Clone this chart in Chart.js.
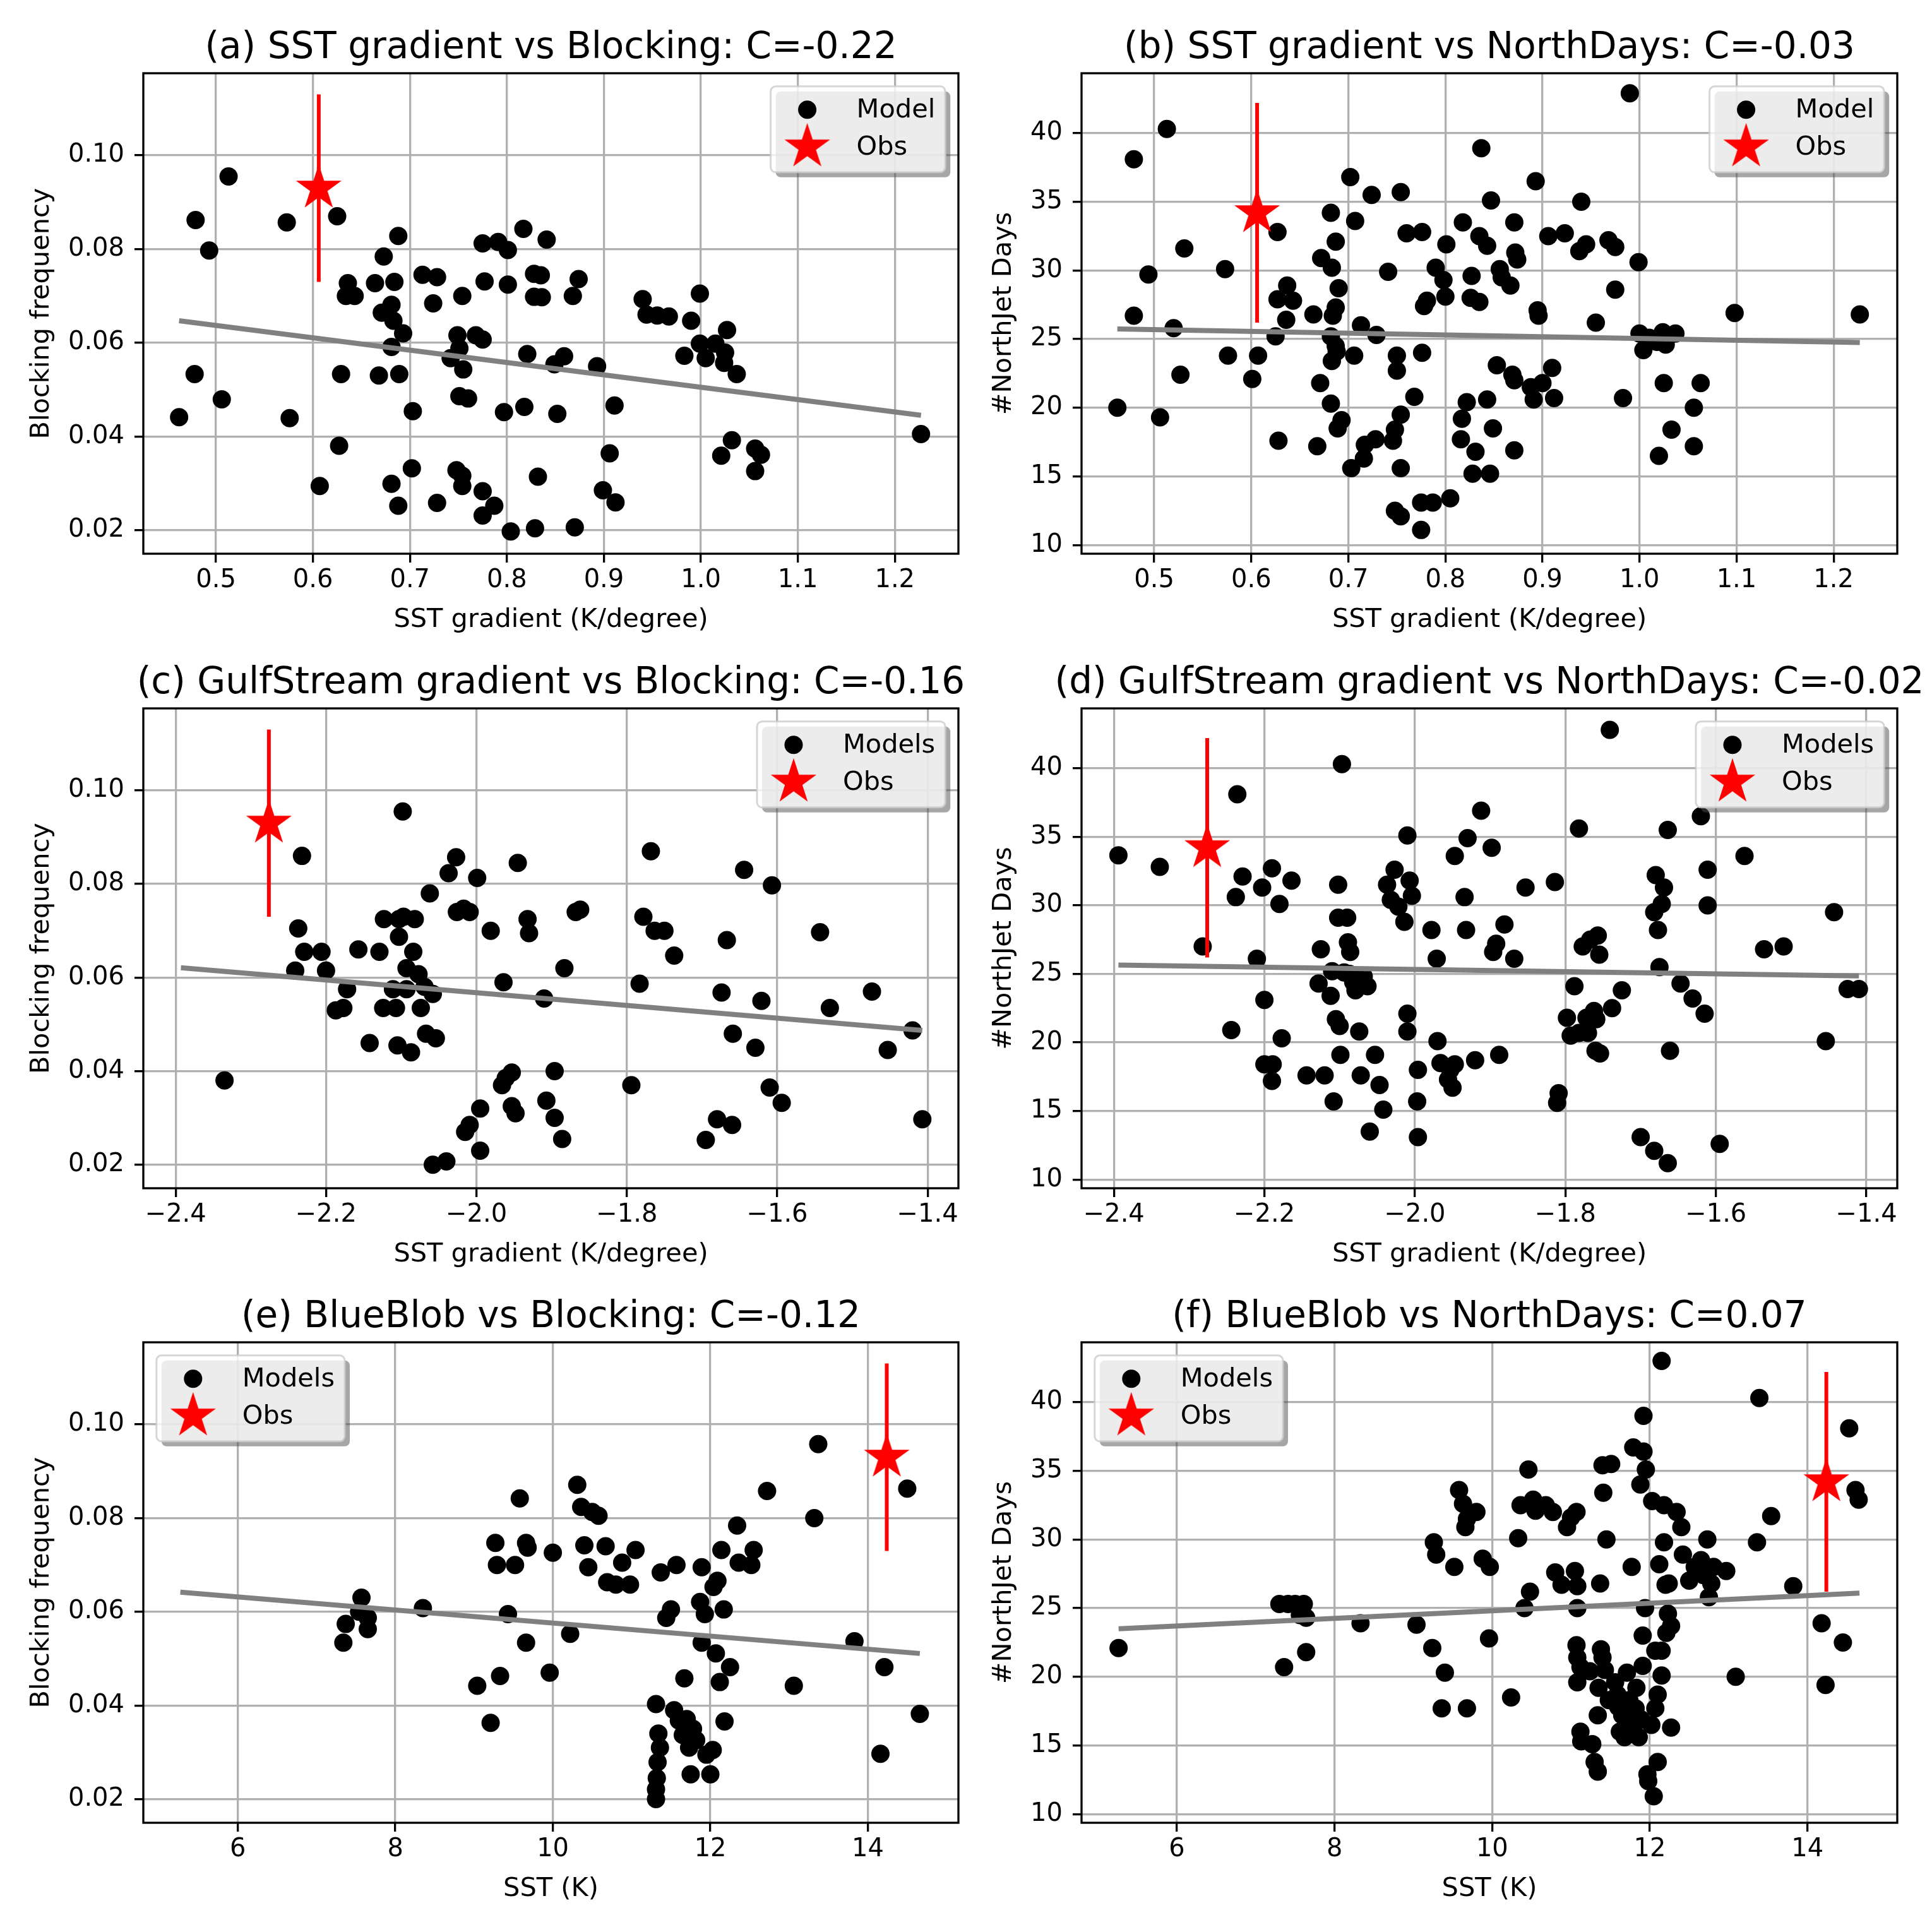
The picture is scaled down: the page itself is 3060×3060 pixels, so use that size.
<!DOCTYPE html>
<html>
<head>
<meta charset="utf-8">
<script src="https://cdn.jsdelivr.net/npm/chart.js@4.4.1/dist/chart.umd.min.js"></script>
<style>
html, body { margin: 0; padding: 0; background: #fff; }
#page { position: relative; width: 3060px; height: 3060px; overflow: hidden; background: #fff; }
#page canvas { position: absolute; }
</style>
</head>
<body>
<div id="page"></div>
<script>
// ---- data ----

// (a) SST gradient vs Blocking
const sstGradA = [0.462,0.479,0.493,0.478,0.513,0.506,0.573,0.576,0.607,0.625,0.629,0.627,0.636,0.634,0.643,0.664,0.673,0.668,0.688,0.684,0.681,0.671,0.683,0.693,0.681,0.689,0.681,0.688,0.703,0.702,0.713,0.728,0.724,0.728,0.749,0.751,0.742,0.755,0.754,0.748,0.754,0.754,0.751,0.760,0.768,0.775,0.775,0.791,0.801,0.777,0.801,0.775,0.775,0.787,0.797,0.804,0.817,0.818,0.821,0.828,0.835,0.828,0.836,0.829,0.832,0.841,0.849,0.859,0.852,0.874,0.868,0.870,0.893,0.906,0.911,0.899,0.912,0.940,0.944,0.955,0.967,0.990,0.999,0.983,0.999,1.005,1.015,1.027,1.025,1.024,1.037,1.032,1.021,1.056,1.062,1.056,1.227];
const blockA = [0.0441,0.0862,0.0797,0.0533,0.0955,0.0479,0.0857,0.0439,0.0294,0.0870,0.0533,0.0380,0.0727,0.0700,0.0700,0.0727,0.0784,0.0530,0.0828,0.0730,0.0681,0.0664,0.0647,0.0620,0.0591,0.0533,0.0299,0.0252,0.0454,0.0332,0.0745,0.0740,0.0684,0.0258,0.0616,0.0588,0.0567,0.0543,0.0700,0.0328,0.0316,0.0294,0.0486,0.0481,0.0616,0.0607,0.0812,0.0815,0.0798,0.0731,0.0724,0.0283,0.0231,0.0252,0.0452,0.0197,0.0843,0.0463,0.0576,0.0747,0.0744,0.0698,0.0697,0.0204,0.0314,0.0820,0.0554,0.0571,0.0448,0.0736,0.0700,0.0206,0.0550,0.0364,0.0466,0.0285,0.0259,0.0693,0.0660,0.0658,0.0656,0.0647,0.0705,0.0572,0.0598,0.0567,0.0598,0.0627,0.0579,0.0557,0.0533,0.0392,0.0359,0.0374,0.0361,0.0326,0.0405];

// (b) SST gradient vs NorthDays
const sstGradB = [0.462,0.479,0.479,0.494,0.506,0.513,0.520,0.527,0.531,0.573,
  0.576,0.601,0.607,0.627,0.625,0.628,0.637,0.627,0.643,0.636,
  0.664,0.668,0.682,0.687,0.672,0.683,0.690,0.687,0.684,0.682,
  0.687,0.688,0.683,0.671,0.682,0.693,0.689,0.702,0.707,0.706,
  0.703,0.713,0.717,0.716,0.724,0.729,0.728,0.741,0.750,0.750,
  0.754,0.760,0.776,0.768,0.754,0.748,0.746,0.748,0.754,0.754,
  0.775,0.775,0.787,0.776,0.778,0.781,0.790,0.801,0.798,0.800,
  0.805,0.818,0.817,0.822,0.816,0.831,0.828,0.846,0.837,0.835,
  0.843,0.827,0.826,0.835,0.847,0.849,0.843,0.853,0.869,0.871,
  0.871,0.856,0.858,0.867,0.871,0.872,0.874,0.893,0.895,0.896,
  0.888,0.891,0.900,0.910,0.912,0.906,0.923,0.940,0.938,0.945,
  0.955,0.968,0.975,0.975,0.990,0.983,0.999,1.000,1.004,1.010,
  1.018,1.027,1.024,1.037,1.020,1.025,1.033,1.056,1.063,1.056,
  1.098,1.227];
const daysB = [20.0,38.1,26.7,29.7,19.3,40.3,25.8,22.4,31.6,30.1,
  23.8,22.1,23.8,32.8,25.2,17.6,28.9,27.9,27.8,26.4,
  26.8,17.2,34.2,32.1,30.9,30.2,28.7,27.3,26.7,25.2,
  24.5,24.1,23.4,21.8,20.3,19.1,18.5,36.8,33.6,23.8,
  15.6,26.0,17.3,16.3,35.5,25.3,17.7,29.9,23.8,22.7,
  35.7,32.7,32.8,20.8,19.5,18.4,17.6,12.5,12.1,15.6,
  11.1,13.1,13.1,24.0,27.4,27.8,30.2,31.9,29.3,28.1,
  13.4,33.5,19.2,20.4,17.7,16.8,15.2,15.2,38.9,32.5,
  31.8,29.6,28.0,27.7,35.1,18.5,20.6,23.1,22.4,22.0,
  16.9,30.1,29.5,28.9,33.5,31.3,30.8,36.5,27.1,26.7,
  21.5,20.6,21.8,22.9,20.7,32.5,32.7,35.0,31.4,31.9,
  26.2,32.2,31.7,28.6,42.9,20.7,30.6,25.4,24.2,25.1,
  24.8,24.6,25.5,25.4,16.5,21.8,18.4,20.0,21.8,17.2,
  26.9,26.8];

// (c) GulfStream gradient vs Blocking
const gulfC = [-2.335,-2.232,-2.237,-2.229,-2.241,-2.206,-2.200,-2.172,-2.187,-2.177,
  -2.157,-2.142,-2.129,-2.123,-2.124,-2.111,-2.107,-2.105,-2.103,-2.103,
  -2.097,-2.098,-2.093,-2.093,-2.087,-2.084,-2.082,-2.077,-2.074,-2.069,
  -2.067,-2.062,-2.054,-2.058,-2.058,-2.040,-2.037,-2.027,-2.026,-2.017,
  -2.015,-2.009,-1.995,-1.995,-1.999,-2.009,-1.981,-1.966,-1.961,-1.953,
  -1.953,-1.948,-1.945,-1.932,-1.930,-1.964,-1.910,-1.907,-1.896,-1.896,
  -1.886,-1.883,-1.868,-1.862,-1.794,-1.783,-1.778,-1.768,-1.763,-1.750,
  -1.737,-1.695,-1.680,-1.674,-1.667,-1.660,-1.659,-1.644,-1.629,-1.621,
  -1.610,-1.607,-1.594,-1.543,-1.530,-1.474,-1.453,-1.420,-1.407];
const blockC = [0.038,0.086,0.0705,0.0655,0.0615,0.0655,0.0615,0.0575,0.053,0.0535,
  0.066,0.046,0.0655,0.0725,0.0535,0.0575,0.0535,0.0455,0.0687,0.0725,
  0.073,0.0955,0.062,0.0575,0.044,0.0655,0.0725,0.0607,0.0535,0.058,
  0.048,0.078,0.047,0.0565,0.020,0.0207,0.0823,0.0857,0.074,0.0747,
  0.027,0.0285,0.032,0.023,0.0813,0.074,0.070,0.037,0.0385,0.0397,
  0.0325,0.031,0.0845,0.0725,0.0695,0.059,0.0555,0.0337,0.030,0.040,
  0.0255,0.062,0.074,0.0745,0.037,0.0587,0.073,0.087,0.070,0.070,
  0.0647,0.0253,0.0297,0.0568,0.068,0.0285,0.048,0.083,0.045,0.055,
  0.0365,0.0797,0.0332,0.0697,0.0535,0.057,0.0445,0.0487,0.0297];

// (d) GulfStream gradient vs NorthDays
const gulfD = [-2.394,-2.339,-2.282,-2.244,-2.238,-2.236,-2.229,-2.210,-2.203,-2.200,
  -2.200,-2.190,-2.190,-2.189,-2.180,-2.177,-2.164,-2.144,-2.128,-2.125,
  -2.120,-2.112,-2.110,-2.108,-2.105,-2.102,-2.102,-2.100,-2.099,-2.097,
  -2.094,-2.090,-2.089,-2.086,-2.087,-2.082,-2.079,-2.074,-2.072,-2.068,
  -2.063,-2.060,-2.053,-2.047,-2.042,-2.037,-2.032,-2.027,-2.022,-2.014,
  -2.010,-2.010,-2.007,-2.004,-1.996,-1.997,-1.996,-2.010,-1.978,-1.971,
  -1.970,-1.966,-1.956,-1.953,-1.950,-1.947,-1.947,-1.934,-1.932,-1.930,
  -1.920,-1.912,-1.898,-1.896,-1.892,-1.888,-1.881,-1.868,-1.853,-1.814,
  -1.811,-1.809,-1.798,-1.793,-1.788,-1.782,-1.782,-1.777,-1.772,-1.770,
  -1.767,-1.762,-1.760,-1.759,-1.755,-1.757,-1.754,-1.741,-1.738,-1.725,
  -1.700,-1.682,-1.682,-1.680,-1.677,-1.675,-1.672,-1.669,-1.664,-1.664,
  -1.661,-1.647,-1.631,-1.620,-1.615,-1.611,-1.611,-1.595,-1.562,-1.536,
  -1.510,-1.443,-1.454,-1.425,-1.410];
const daysD = [33.65,32.8,27.0,20.9,30.6,38.1,32.1,26.1,31.3,23.1,
  18.4,32.7,17.2,18.4,30.1,20.3,31.8,17.6,24.3,26.8,
  17.6,23.4,25.2,15.7,21.7,31.5,29.1,21.2,19.1,40.3,
  25.1,29.1,27.3,26.6,25.0,24.4,23.8,20.8,17.6,24.8,
  24.1,13.5,19.1,16.9,15.1,31.5,30.4,32.6,29.9,28.8,
  22.1,20.8,31.8,30.7,18.0,15.7,13.1,35.1,28.2,26.1,
  20.1,18.5,17.3,18.0,16.7,18.4,33.6,30.6,28.2,34.9,
  18.7,36.9,34.2,26.6,27.2,19.1,28.6,26.1,31.3,31.7,
  15.6,16.3,21.8,20.5,24.1,35.6,20.7,27.0,21.8,20.7,
  27.5,22.3,19.4,21.7,26.4,27.8,19.2,42.8,22.5,23.8,
  13.1,12.1,29.5,32.2,28.2,25.5,30.1,31.3,11.2,35.5,
  19.4,24.3,23.2,36.5,22.1,30.0,32.6,12.6,33.6,26.8,
  27.0,29.5,20.1,23.9,23.9];

// (e) BlueBlob vs Blocking
const blobE = [7.34,7.37,7.57,7.54,7.65,7.65,8.35,9.04,9.21,9.27,
  9.29,9.33,9.43,9.52,9.58,9.66,9.68,9.66,9.96,10.0,
  10.22,10.31,10.36,10.4,10.45,10.5,10.58,10.67,10.69,10.8,
  10.88,10.98,11.05,11.31,11.34,11.36,11.33,11.32,11.31,11.31,
  11.37,11.44,11.5,11.54,11.57,11.6,11.65,11.67,11.7,11.73,
  11.75,11.78,11.82,11.87,11.89,11.89,11.93,11.95,12.0,12.03,
  12.04,12.07,12.09,12.12,12.14,12.17,12.18,12.25,12.34,12.36,
  12.55,12.52,12.72,13.06,13.32,13.37,13.83,14.21,14.16,14.5,
  14.66];
const blockE = [0.0534,0.0574,0.063,0.060,0.0587,0.0563,0.0608,0.0442,0.0363,0.0747,
  0.070,0.0463,0.0595,0.070,0.0842,0.0747,0.0737,0.0534,0.047,0.0726,
  0.0553,0.0871,0.0824,0.0742,0.0695,0.0813,0.0805,0.074,0.0663,0.0658,
  0.0705,0.0658,0.0732,0.0403,0.034,0.031,0.0279,0.0245,0.0221,0.020,
  0.0684,0.0587,0.0605,0.039,0.070,0.0368,0.0337,0.0458,0.0371,0.031,
  0.0253,0.035,0.0326,0.0621,0.0695,0.0534,0.0595,0.0295,0.0253,0.0305,
  0.0653,0.0511,0.0666,0.045,0.0732,0.0605,0.0366,0.0482,0.0784,0.0705,
  0.0732,0.070,0.0858,0.0442,0.080,0.0958,0.0537,0.0482,0.0297,0.0863,
  0.0382];

// (f) BlueBlob vs NorthDays
const blobF = [5.26,7.30,7.36,7.41,7.50,7.56,7.61,7.64,7.64,8.33,
  9.04,9.24,9.26,9.29,9.40,9.36,9.52,9.58,9.63,9.66,
  9.68,9.68,9.80,9.88,9.97,9.96,10.24,10.33,10.36,10.41,
  10.46,10.48,10.52,10.55,10.68,10.77,10.80,10.88,10.95,11.00,
  11.07,11.05,11.08,11.08,11.07,11.08,11.08,11.12,11.12,11.13,
  11.24,11.27,11.30,11.34,11.34,11.35,11.37,11.38,11.40,11.40,
  11.41,11.43,11.45,11.48,11.51,11.56,11.59,11.60,11.62,11.65,
  11.68,11.71,11.71,11.74,11.77,11.79,11.80,11.82,11.83,11.86,
  11.88,11.89,11.91,11.91,11.92,11.92,11.94,11.95,11.97,11.98,
  12.02,12.03,12.05,12.07,12.07,12.10,12.10,12.12,12.15,12.15,
  12.15,12.18,12.18,12.20,12.21,12.23,12.24,12.27,12.27,12.34,
  12.40,12.42,12.50,12.57,12.65,12.68,12.73,12.78,12.75,12.81,
  12.97,13.09,13.36,13.39,13.54,13.82,14.18,14.23,14.45,14.53,
  14.61,14.65];
const daysF = [22.1,25.3,20.7,25.3,25.3,24.5,25.3,24.3,21.8,23.9,
  23.8,22.1,29.8,28.9,20.3,17.7,28.0,33.6,32.6,30.9,
  17.7,31.5,32.0,28.6,28.0,22.8,18.5,30.1,32.5,25.0,
  35.1,26.2,32.9,32.1,32.5,32.0,27.6,26.7,30.9,31.6,
  32.0,27.7,26.6,25.0,22.3,21.4,19.6,20.7,16.0,15.3,
  20.4,15.1,13.8,13.1,17.2,19.2,26.8,22.0,21.4,35.4,
  33.4,20.5,30.0,18.3,35.5,19.6,18.7,17.8,16.0,17.2,
  15.6,16.8,20.3,18.3,28.0,36.7,16.5,17.7,19.2,15.6,
  34.0,16.9,20.8,23.0,36.4,39.0,25.0,35.1,12.9,12.4,
  16.5,32.8,11.3,21.9,17.7,13.8,18.7,28.2,43.0,21.9,
  20.1,29.8,32.5,26.7,23.2,24.6,26.8,23.7,16.3,32.0,
  30.9,28.9,27.0,28.0,28.5,27.4,30.0,26.8,25.8,28.0,
  27.7,20.0,29.8,40.3,31.7,26.6,23.9,19.4,22.5,38.1,
  33.6,32.9];

// observation (x value per predictor; [low, mid, high] per target)
const obsSstGrad = 0.606;
const obsGulf = -2.276;
const obsBlob = 14.24;
const obsBlocking = [0.073, 0.093, 0.113];
const obsDays = [26.2, 34.2, 42.2];

// regression line end points
const fitAX = [0.462, 1.227], fitAY = [0.0647, 0.0445];
const fitBX = [0.462, 1.227], fitBY = [25.74, 24.75];
const fitCX = [-2.393, -1.407], fitCY = [0.0621, 0.0487];
const fitDX = [-2.394, -1.410], fitDY = [25.65, 24.85];
const fitEX = [5.27, 14.66], fitEY = [0.0642, 0.0511];
const fitFX = [5.26, 14.66], fitFY = [23.5, 26.1];

// tick labels
const sstGradTicks = [0.5, 0.6, 0.7, 0.8, 0.9, 1.0, 1.1, 1.2];
const gulfTicks = [-2.4, -2.2, -2.0, -1.8, -1.6, -1.4];
const blobTicks = [6, 8, 10, 12, 14];
const blockTicks = [0.02, 0.04, 0.06, 0.08, 0.10];
const daysTicks = [10, 15, 20, 25, 30, 35, 40];

// ---- drawing ----
const FONT = "'DejaVu Sans', sans-serif";
Chart.defaults.font.family = FONT;

function zip(xs, ys) {
	return xs.map((x, i) => ({ x: x, y: ys[i] }));
}

// filled five-point star like matplotlib's '*' marker
function makeStar(R, color) {
	const c = document.createElement('canvas');
	const s = Math.ceil(2 * R + 4);
	c.width = s;
	c.height = s;
	const g = c.getContext('2d');
	const r = R * 0.382;
	g.beginPath();
	for (let i = 0; i < 10; i++) {
		const a = -Math.PI / 2 + i * Math.PI / 5;
		const rad = i % 2 === 0 ? R : r;
		const px = s / 2 + rad * Math.cos(a);
		const py = s / 2 + rad * Math.sin(a);
		if (i === 0) g.moveTo(px, py); else g.lineTo(px, py);
	}
	g.closePath();
	g.fillStyle = color;
	g.fill();
	return c;
}
const starImg = makeStar(38, '#ff0000');

function roundRect(ctx, x, y, w, h, r) {
	ctx.beginPath();
	ctx.moveTo(x + r, y);
	ctx.lineTo(x + w - r, y);
	ctx.arcTo(x + w, y, x + w, y + r, r);
	ctx.lineTo(x + w, y + h - r);
	ctx.arcTo(x + w, y + h, x + w - r, y + h, r);
	ctx.lineTo(x + r, y + h);
	ctx.arcTo(x, y + h, x, y + h - r, r);
	ctx.lineTo(x, y + r);
	ctx.arcTo(x, y, x + r, y, r);
	ctx.closePath();
}

// frame, legend, title and axis labels
const panelDecor = {
	id: 'panelDecor',
	afterDatasetsDraw(chart, args, opts) {
		const ctx = chart.ctx;
		const a = chart.chartArea;
		ctx.save();

		ctx.strokeStyle = '#000';
		ctx.lineWidth = 3.3;
		ctx.strokeRect(a.left, a.top, a.right - a.left, a.bottom - a.top);

		// legend with shadow
		const fs = 41.5;
		ctx.font = fs + 'px ' + FONT;
		const tw = Math.max(ctx.measureText(opts.legendLabel).width, ctx.measureText('Obs').width);
		const w = 152 + tw, h = 136;
		const lx = opts.legendSide === 'right' ? a.right - 20.8 - w : a.left + 20.8;
		const ly = a.top + 20.8;
		roundRect(ctx, lx + 8, ly + 8, w, h, 8);
		ctx.fillStyle = 'rgba(77,77,77,0.5)';
		ctx.fill();
		roundRect(ctx, lx, ly, w, h, 8);
		ctx.fillStyle = 'rgba(255,255,255,0.8)';
		ctx.fill();
		ctx.strokeStyle = 'rgba(204,204,204,0.8)';
		ctx.lineWidth = 3;
		ctx.stroke();
		ctx.beginPath();
		ctx.arc(lx + 58, ly + 37, 14.5, 0, 2 * Math.PI);
		ctx.fillStyle = '#000';
		ctx.fill();
		ctx.drawImage(starImg, lx + 58 - starImg.width / 2, ly + 96 - starImg.height / 2);
		ctx.textAlign = 'left';
		ctx.textBaseline = 'alphabetic';
		ctx.fillText(opts.legendLabel, lx + 136, ly + 37 + 12.5);
		ctx.fillText('Obs', lx + 136, ly + 96 + 12.5);

		// title and axis labels
		const cx = (a.left + a.right) / 2;
		ctx.textAlign = 'center';
		ctx.font = '58px ' + FONT;
		ctx.fillText(opts.title, cx, a.top - 24);
		ctx.font = fs + 'px ' + FONT;
		ctx.fillText(opts.xlabel, cx, a.bottom + 116);
		ctx.translate(a.left - opts.ylabelGap, (a.top + a.bottom) / 2);
		ctx.rotate(-Math.PI / 2);
		ctx.fillText(opts.ylabel, 0, 0);
		ctx.restore();
	}
};

const fmt1 = (v) => v.toFixed(1);
const fmt2 = (v) => v.toFixed(2);
const fmtMinus = (v) => v.toFixed(1).replace('-', '\u2212');
const fmtInt = (v) => String(v);

const panels = [
	{ xs: sstGradA, ys: blockA, obsX: obsSstGrad, obsY: obsBlocking, fitX: fitAX, fitY: fitAY,
	  xRange: [0.4251, 1.2656], yRange: [0.01496, 0.11753], xTicks: sstGradTicks, yTicks: blockTicks,
	  xFmt: fmt1, yFmt: fmt2, title: '(a) SST gradient vs Blocking: C=-0.22',
	  xlabel: 'SST gradient (K/degree)', ylabel: 'Blocking frequency', legendLabel: 'Model', legendSide: 'right',
	  box: { left: 227, right: 1518, top: 116, bottom: 877 }, cv: { x: 0, y: 0, w: 1700, h: 1030 }, ylabelGap: 150 },
	{ xs: sstGradB, ys: daysB, obsX: obsSstGrad, obsY: obsDays, fitX: fitBX, fitY: fitBY,
	  xRange: [0.4251, 1.2656], yRange: [9.37, 44.36], xTicks: sstGradTicks, yTicks: daysTicks,
	  xFmt: fmt1, yFmt: fmtInt, title: '(b) SST gradient vs NorthDays: C=-0.03',
	  xlabel: 'SST gradient (K/degree)', ylabel: '#NorthJet Days', legendLabel: 'Model', legendSide: 'right',
	  box: { left: 1713, right: 3005, top: 116, bottom: 877 }, cv: { x: 1360, y: 0, w: 1700, h: 1030 }, ylabelGap: 112 },
	{ xs: gulfC, ys: blockC, obsX: obsGulf, obsY: obsBlocking, fitX: fitCX, fitY: fitCY,
	  xRange: [-2.443, -1.359], yRange: [0.01496, 0.11753], xTicks: gulfTicks, yTicks: blockTicks,
	  xFmt: fmtMinus, yFmt: fmt2, title: '(c) GulfStream gradient vs Blocking: C=-0.16',
	  xlabel: 'SST gradient (K/degree)', ylabel: 'Blocking frequency', legendLabel: 'Models', legendSide: 'right',
	  box: { left: 227, right: 1518, top: 1122, bottom: 1882 }, cv: { x: 0, y: 1006, w: 1700, h: 1030 }, ylabelGap: 150 },
	{ xs: gulfD, ys: daysD, obsX: obsGulf, obsY: obsDays, fitX: fitDX, fitY: fitDY,
	  xRange: [-2.443, -1.359], yRange: [9.37, 44.36], xTicks: gulfTicks, yTicks: daysTicks,
	  xFmt: fmtMinus, yFmt: fmtInt, title: '(d) GulfStream gradient vs NorthDays: C=-0.02',
	  xlabel: 'SST gradient (K/degree)', ylabel: '#NorthJet Days', legendLabel: 'Models', legendSide: 'right',
	  box: { left: 1713, right: 3005, top: 1122, bottom: 1882 }, cv: { x: 1360, y: 1006, w: 1700, h: 1030 }, ylabelGap: 112 },
	{ xs: blobE, ys: blockE, obsX: obsBlob, obsY: obsBlocking, fitX: fitEX, fitY: fitEY,
	  xRange: [4.80, 15.15], yRange: [0.01496, 0.11753], xTicks: blobTicks, yTicks: blockTicks,
	  xFmt: fmtInt, yFmt: fmt2, title: '(e) BlueBlob vs Blocking: C=-0.12',
	  xlabel: 'SST (K)', ylabel: 'Blocking frequency', legendLabel: 'Models', legendSide: 'left',
	  box: { left: 227, right: 1518, top: 2126, bottom: 2887 }, cv: { x: 0, y: 2010, w: 1700, h: 1050 }, ylabelGap: 150 },
	{ xs: blobF, ys: daysF, obsX: obsBlob, obsY: obsDays, fitX: fitFX, fitY: fitFY,
	  xRange: [4.79, 15.14], yRange: [9.37, 44.36], xTicks: blobTicks, yTicks: daysTicks,
	  xFmt: fmtInt, yFmt: fmtInt, title: '(f) BlueBlob vs NorthDays: C=0.07',
	  xlabel: 'SST (K)', ylabel: '#NorthJet Days', legendLabel: 'Models', legendSide: 'left',
	  box: { left: 1713, right: 3005, top: 2126, bottom: 2887 }, cv: { x: 1360, y: 2010, w: 1700, h: 1050 }, ylabelGap: 112 }
];

function axisOptions(range, ticks, fmt, pad) {
	return {
		type: 'linear',
		min: range[0],
		max: range[1],
		afterBuildTicks: (s) => { s.ticks = ticks.map((v) => ({ value: v })); },
		ticks: {
			callback: (v) => fmt(v),
			font: { family: FONT, size: 40 },
			color: '#000',
			padding: pad,
			maxRotation: 0,
			autoSkip: false
		},
		grid: { color: '#b0b0b0', lineWidth: 3.3, tickColor: '#000', tickLength: 14, tickWidth: 3.3 },
		border: { display: false }
	};
}

function buildPanel(p) {
	const cv = document.createElement('canvas');
	cv.width = p.cv.w;
	cv.height = p.cv.h;
	cv.style.left = p.cv.x + 'px';
	cv.style.top = p.cv.y + 'px';
	cv.style.width = p.cv.w + 'px';
	cv.style.height = p.cv.h + 'px';
	document.getElementById('page').appendChild(cv);

	const padLeft = p.box.left - p.cv.x;
	const padTop = p.box.top - p.cv.y;
	const padRight = p.cv.x + p.cv.w - p.box.right;
	const xHeight = p.cv.y + p.cv.h - p.box.bottom;

	const xOpts = axisOptions(p.xRange, p.xTicks, p.xFmt, 5);
	xOpts.afterFit = (s) => { s.height = xHeight; };
	const yOpts = axisOptions(p.yRange, p.yTicks, p.yFmt, 16);
	yOpts.afterFit = (s) => { s.width = padLeft; };

	new Chart(cv.getContext('2d'), {
		type: 'scatter',
		data: {
			datasets: [
				{ label: p.legendLabel, data: zip(p.xs, p.ys), pointRadius: 14.5, pointHoverRadius: 14.5,
				  backgroundColor: '#000', borderWidth: 0, order: 4, clip: 0 },
				{ label: 'Obs range', data: zip([p.obsX, p.obsX], [p.obsY[0], p.obsY[2]]), showLine: true,
				  borderColor: '#ff0000', borderWidth: 6, pointRadius: 0, order: 3, clip: 0 },
				{ label: 'Obs', data: zip([p.obsX], [p.obsY[1]]), pointStyle: starImg, pointRadius: 38,
				  order: 2, clip: 0 },
				{ label: 'Fit', data: zip(p.fitX, p.fitY), showLine: true, borderColor: '#808080',
				  borderWidth: 8, borderCapStyle: 'butt', pointRadius: 0, order: 1, clip: 0 }
			]
		},
		options: {
			responsive: false,
			animation: false,
			devicePixelRatio: 1,
			events: [],
			layout: { autoPadding: false, padding: { left: 0, top: padTop, right: padRight, bottom: 0 } },
			plugins: {
				legend: { display: false },
				tooltip: { enabled: false },
				panelDecor: {
					title: p.title, xlabel: p.xlabel, ylabel: p.ylabel,
					legendLabel: p.legendLabel, legendSide: p.legendSide, ylabelGap: p.ylabelGap
				}
			},
			scales: { x: xOpts, y: yOpts }
		},
		plugins: [panelDecor]
	});
}

panels.forEach(buildPanel);
</script>
</body>
</html>
